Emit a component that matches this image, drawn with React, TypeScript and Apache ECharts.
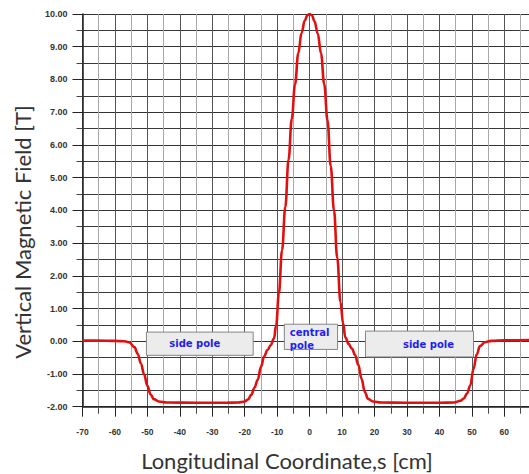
import React, { useEffect, useRef } from "react";
import * as echarts from "echarts";

// Longitudinal coordinate s [cm]
const sPositions = [
  -70, -65, -60, -57, -55.5, -54, -53, -52, -51, -50, -49, -48, -46.5, -44, -35, -26, -22, -20, -19, -18,
  -17, -16, -15, -14, -13, -12, -11, -10.3, -9.5, -8.5, -7.5, -6.5, -5.5, -4.5, -3.5, -2.5, -1.5, -0.7, 0,
  0.7, 1.5, 2.5, 3.5, 4.5, 5.5, 6.5, 7.5, 8.5, 9.5, 10.3, 11, 12, 13, 14, 15, 16, 17, 18, 19.5, 22, 30,
  40, 44.5, 46.5, 47.5, 48.5, 49.5, 50.5, 51.5, 52.5, 54, 56, 60, 67.6,
];
// Vertical magnetic field [T]
const fieldValues = [
  0.02, 0.02, 0.01, 0.0, -0.04, -0.18, -0.38, -0.68, -1.02, -1.36, -1.63, -1.77, -1.84, -1.87, -1.88, -1.88,
  -1.87, -1.84, -1.78, -1.64, -1.42, -1.18, -0.78, -0.46, -0.27, -0.12, 0.08, 0.5, 1.45, 2.78, 4.1, 5.55,
  6.8, 7.85, 8.8, 9.42, 9.8, 9.96, 10.0, 9.96, 9.78, 9.4, 8.8, 7.85, 6.75, 5.35, 4.0, 2.55, 1.2, 0.55, 0.12,
  -0.08, -0.22, -0.42, -0.72, -1.15, -1.55, -1.76, -1.84, -1.87, -1.88, -1.88, -1.87, -1.82, -1.75, -1.6,
  -1.35, -0.85, -0.4, -0.15, -0.03, 0.01, 0.03, 0.04,
];

const yTicks = [-2, -1, 0, 1, 2, 3, 4, 5, 6, 7, 8, 9, 10];
const xTicks = [-70, -60, -50, -40, -30, -20, -10, 0, 10, 20, 30, 40, 50, 60];

// annotation boxes
const boxLabels = ["side pole", "central\npole", "side pole"];
const boxS = [
  [-50.3, -17.4],
  [-7.8, 8.6],
  [17.2, 50.5],
];
const boxField = [
  [0.28, -0.43],
  [0.52, -0.25],
  [0.31, -0.48],
];

export default function App() {
  const ref = useRef<HTMLDivElement>(null);
  useEffect(() => {
    if (!ref.current) return;
    const chart = echarts.init(ref.current, undefined, { renderer: "svg" });
    const data = sPositions.map((s, i) => [s, fieldValues[i]]);
    const labelStyle = {
      color: "#1e1ef0",
      fontFamily: "DejaVu Sans",
      fontWeight: "bold" as const,
      fontSize: 10,
    };
    const areas = boxLabels.map((lab, i) => {
      const central = i === 1;
      return [
        {
          xAxis: boxS[i][0],
          yAxis: boxField[i][0],
          label: central
            ? { ...labelStyle, position: "insideTopLeft", offset: [1, -2], lineHeight: 12.5, align: "left" }
            : { ...labelStyle, position: "inside", offset: [i === 0 ? -5 : 9, 0] },
          name: lab,
        },
        { xAxis: boxS[i][1], yAxis: boxField[i][1] },
      ];
    });
    chart.setOption({
      animation: false,
      backgroundColor: "#ffffff",
      grid: { left: 82.5, right: 0, top: 14, bottom: 67.3, containLabel: false },
      xAxis: {
        type: "value",
        min: -70,
        max: 67.6,
        interval: 10,
        axisLine: { show: true, onZero: false, lineStyle: { color: "#222", width: 1.5 } },
        axisTick: { show: true, length: 10, lineStyle: { color: "#222" } },
        minorTick: { show: true, splitNumber: 2, length: 7, lineStyle: { color: "#444" } },
        axisLabel: {
          margin: 21,
          color: "#333",
          fontFamily: "Liberation Sans",
          fontWeight: "bold",
          fontSize: 8.5,
          showMaxLabel: false,
          formatter: (v: number) => (xTicks.includes(v) ? String(v) : ""),
        },
        splitLine: { show: true, lineStyle: { color: "#555", width: 1 } },
        minorSplitLine: { show: true, lineStyle: { color: "#a8a8a8", width: 1 } },
      },
      yAxis: {
        type: "value",
        min: -2,
        max: 10,
        interval: 1,
        axisLine: { show: true, onZero: false, lineStyle: { color: "#222", width: 1.5 } },
        axisTick: { show: true, length: 10, lineStyle: { color: "#222" } },
        minorTick: { show: true, splitNumber: 2, length: 6, lineStyle: { color: "#444" } },
        axisLabel: {
          margin: 15,
          color: "#333",
          fontFamily: "Liberation Sans",
          fontWeight: "bold",
          fontSize: 9,
          formatter: (v: number) => (yTicks.includes(v) ? v.toFixed(2) : ""),
        },
        splitLine: { show: true, lineStyle: { color: "#333", width: 1.2 } },
        minorSplitLine: { show: true, lineStyle: { color: "#3a3a3a", width: 1.2 } },
      },
      graphic: [
        {
          type: "text",
          x: 287,
          y: 460,
          style: {
            text: "Longitudinal Coordinate,s [cm]",
            fill: "#333",
            font: "22px Lato",
            textAlign: "center",
            textVerticalAlign: "middle",
          },
        },
        {
          type: "text",
          x: 22,
          y: 232,
          rotation: Math.PI / 2,
          style: {
            text: "Vertical Magnetic Field [T]",
            fill: "#333",
            font: "22px Lato",
            textAlign: "center",
            textVerticalAlign: "middle",
          },
        },
      ],
      series: [
        {
          type: "line",
          data,
          showSymbol: false,
          smooth: 0.4,
          smoothMonotone: "x",
          lineStyle: { color: "#e01010", width: 2.6 },
          z: 5,
          markArea: {
            silent: true,
            itemStyle: { color: "#ececec", borderColor: "#858585", borderWidth: 1 },
            label: { show: true, fontWeight: "bold", formatter: (p: any) => p.name },
            data: areas,
          },
        },
      ],
    });
    return () => chart.dispose();
  }, []);
  return (
    <div
      ref={ref}
      style={{ position: "fixed", left: 0, top: 0, width: 529, height: 474, background: "#fff" }}
    />
  );
}
